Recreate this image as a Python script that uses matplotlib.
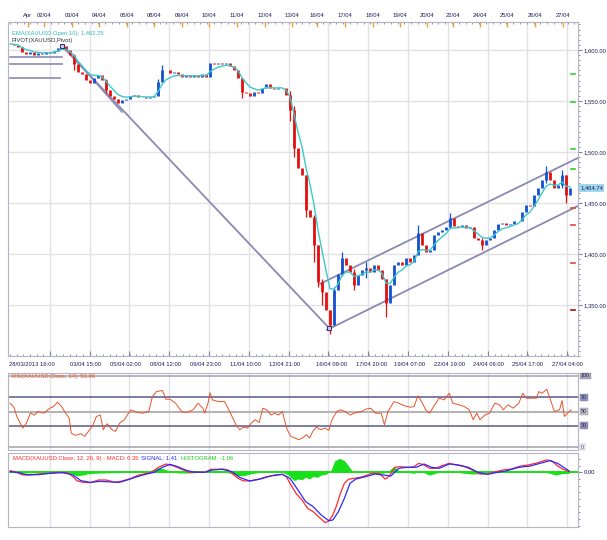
import matplotlib
matplotlib.use("Agg")
import matplotlib.pyplot as plt
import matplotlib.transforms as mtransforms
from matplotlib.ticker import MultipleLocator, FuncFormatter
import numpy as np
import pandas as pd

plt.rcParams['font.family'] = ['Liberation Sans Narrow', 'Liberation Sans', 'DejaVu Sans']

# hourly-ish XAUUSD closes, one value per bar
closes = [1605.9, 1604.9, 1603, 1598, 1596, 1598, 1595, 1597, 1596, 1598,
          1597, 1599, 1602, 1604, 1600, 1595, 1586, 1578, 1576, 1571,
          1568, 1573, 1575, 1571, 1561, 1555, 1552, 1548, 1551, 1552,
          1555, 1556, 1554, 1554, 1553, 1554, 1555, 1569, 1580, 1580,
          1577, 1578, 1576, 1574, 1575, 1574, 1575, 1574, 1576, 1574,
          1587, 1586, 1587, 1586, 1587, 1584, 1580, 1573, 1559, 1558,
          1555, 1559, 1558, 1563, 1567, 1563, 1562, 1563, 1563, 1556,
          1541, 1504, 1484, 1477, 1443, 1436, 1409, 1373, 1363, 1345,
          1330, 1365, 1380, 1396, 1389, 1382, 1370, 1379, 1384, 1386,
          1382, 1389, 1384, 1375, 1352, 1370, 1389, 1392, 1389, 1396,
          1392, 1399, 1421, 1409, 1402, 1404, 1419, 1422, 1424, 1426,
          1435, 1427, 1426, 1428, 1425, 1426, 1416, 1414, 1409, 1414,
          1416, 1424, 1429, 1430, 1428, 1429, 1432, 1432, 1441, 1448,
          1447, 1458, 1465, 1473, 1480, 1473, 1465, 1468, 1477, 1458,
          1464.74]
wick_bars = [16, 24, 37, 38, 58, 70, 71, 74, 76, 77, 78, 80, 81, 83, 86, 89,
             94, 102, 110, 118, 134, 138, 139]
wick_lo = [1580, 1558, 1560, 1575, 1553, 1530, 1495, 1436, 1392, 1368, 1350, 1322,
           1330, 1378, 1365, 1376, 1338, 1400, 1426, 1404, 1470, 1465, 1450]
wick_hi = [1596, 1572, 1572, 1585, 1573, 1560, 1545, 1477, 1438, 1409, 1375, 1345,
           1368, 1402, 1385, 1392, 1375, 1428, 1440, 1416, 1486, 1482, 1477]

top_labels = ["Apr", "02/04", "03/04", "04/04", "05/04", "08/04", "09/04", "10/04",
              "11/04", "12/04", "13/04", "16/04", "17/04", "18/04", "19/04", "20/04",
              "22/04", "24/04", "25/04", "26/04", "27/04"]
top_pos = [4.5, 8.5, 15.5, 22.25, 29.25, 36, 43, 49.75, 56.75, 63.75, 70.5,
           76.75, 83.75, 90.75, 97.5, 104.25, 110.75, 117.5, 124.25, 131.25, 138.25]
bottom_labels = ["28/03/2013 16:00", "03/04 15:00", "05/04 02:00", "08/04 12:00",
                 "09/04 23:00", "11/04 10:00", "12/04 21:00", "16/04 09:00",
                 "17/04 20:00", "19/04 07:00", "22/04 19:00", "24/04 06:00",
                 "25/04 17:00", "27/04 04:00"]
bottom_pos = [5.5, 18.75, 28.75, 38.75, 48.75, 58.75, 68.75, 80.5, 90.5, 100,
              110, 119.5, 129.5, 139.25]

# drawing tools on the price panel
pivot_t = [13, 79.75]
pivot_p = [1604, 1327.5]
fan_t = [13.5, 28]
fan_p = [1602.9, 1539.2]
chan_lo_t = [79.25, 142]
chan_lo_p = [1325.6, 1447.1]
chan_hi_t = [77.5, 142]
chan_hi_p = [1370.7, 1494.2]
old_pivots = [1593.1, 1586.3, 1572.5]
old_pivot_end = [13, 13, 12.5]
res_levels = [1576.5, 1549, 1503, 1483.5]
sup_levels = [1445.2, 1428.5, 1391.3]
s3_level = 1345

rsi_t = [0, 1.0, 1.7, 3.2, 4.1, 5.1, 6.1, 7.0, 8.5, 9.95,
         10.9, 11.9, 12.9, 13.8, 14.8, 15.3, 16.3, 17.7, 18.7, 19.6,
         20.6, 21.6, 22.6, 23.3, 24.3, 25.5, 26.4, 27.4, 28.6, 29.3,
         30.3, 31.8, 33.2, 34.7, 35.6, 36.6, 38.1, 39.0, 40.0, 41.4,
         42.9, 43.9, 44.8, 45.8, 47.0, 48.2, 48.7, 49.5, 50.0, 50.6,
         52.1, 53.6, 54.5, 55.5, 56.5, 57.4, 58.4, 59.4, 60.3, 61.3,
         62.3, 63.2, 64.2, 65.2, 66.2, 67.1, 68.1, 68.6, 69.3, 70.2,
         71.2, 72.2, 73.1, 74.1, 74.9, 75.7, 76.6, 77.6, 78.8, 79.7,
         80.5, 81.7, 82.6, 83.8, 85.0, 86.5, 88.0, 88.9, 90.2, 91.3,
         92.8, 93.6, 94.5, 96.0, 97.2, 98.6, 100.1, 101.0, 102.0, 102.9,
         103.9, 104.9, 105.9, 107.3, 108.6, 109.8, 110.7, 112.2, 113.6, 114.8,
         115.8, 116.7, 117.5, 118.7, 119.9, 121.2, 122.4, 123.3, 124.5, 125.8,
         127.2, 128.2, 129.1, 130.3, 131.6, 132.2, 133.0, 134.2, 135.1, 136.1,
         137.4, 138.0, 138.6, 139.8, 140.3]
rsi_v = [61.7, 56, 43, 26.7, 33.7, 47.7, 45, 50, 47.7, 54.7,
         57, 63, 57, 48.6, 40.7, 19.7, 16.4, 18.7, 15, 22,
         29, 43, 45, 24.3, 32.8, 24.3, 22, 33.7, 38.4, 45,
         52.4, 48.6, 47.7, 50, 71, 78, 79.5, 67.3, 67.3, 61.7,
         50, 48.6, 50, 52.4, 61.7, 54.7, 47.7, 61.7, 76.6, 66.4,
         64, 64, 54.7, 43, 31.4, 24.3, 28, 26.7, 33.7, 38.4,
         34.6, 54.7, 52.4, 45, 47.7, 45, 50, 38.4, 24.3, 15,
         12.7, 10.4, 12.7, 17.3, 12.7, 22, 28, 24.3, 26.7, 23.4,
         38.4, 50, 52.4, 50, 45, 48.6, 50, 53.3, 54.7, 47.7,
         47.7, 31.4, 50, 64, 61.7, 58, 56, 57, 72, 64,
         52.4, 47.7, 57, 68.7, 66.4, 75.7, 61.7, 59.4, 57, 52.4,
         38.4, 47.7, 38.4, 45, 47.7, 61.7, 59.4, 52.4, 59.4, 54.7,
         61.7, 75.7, 68.7, 68.7, 68.7, 78, 75.7, 81.3, 66.4, 50,
         52.4, 65.4, 43, 50, 52.4]

macd_t = [0.1, 1.7, 3.2, 5.1, 7.0, 9.5, 11.9, 14.3, 15.8, 16.7,
          18.2, 20.1, 22.1, 24.0, 26.4, 28.4, 30.3, 32.2, 34.2, 35.6,
          37.1, 39.0, 41.0, 42.9, 44.8, 46.8, 48.7, 50.2, 51.6, 53.1,
          54.5, 55.5, 57.0, 58.4, 60.3, 62.3, 64.2, 66.2, 68.1, 69.1,
          70.0, 71.5, 73.0, 74.4, 75.8, 77.3, 78.8, 79.7, 80.7, 81.7,
          82.6, 83.6, 84.6, 86.0, 87.5, 88.9, 90.4, 92.3, 93.8, 94.7,
          96.2, 97.6, 99.6, 101.0, 102.2, 103.5, 104.9, 106.4, 107.8, 109.8,
          111.7, 113.6, 115.6, 117.5, 119.4, 121.4, 123.3, 125.3, 127.7, 129.6,
          132.0, 134.0, 135.4, 136.9, 138.3, 139.8]
macd_v = [1.5, 0, -2.4, -2.4, -1.5, -0.9, 0, -0.3, -3.9, -7.5,
          -9.0, -9.3, -6.9, -6.9, -9.0, -7.5, -5.4, -2.4, -0.9, 0.6,
          4.5, 7.5, 5.7, 2.7, 0, 0, 0, 2.7, 2.7, 3.0,
          2.1, -0.9, -5.4, -7.8, -7.5, -6.0, -3.9, -2.4, -1.8, -3.9,
          -9.9, -18.9, -24.9, -32.4, -35.4, -40.5, -45.3, -43.8, -38.4, -29.4,
          -18.9, -9.9, -6.3, -5.4, -4.5, -3.0, -0.9, -0.9, -6.0, -3.9,
          4.5, 5.1, 4.5, 5.1, 8.1, 6.6, 3.6, 3.6, 5.7, 8.1,
          6.6, 5.1, 2.1, -1.5, -1.5, 0.6, 2.1, 3.0, 5.7, 6.6,
          8.7, 11.1, 10.5, 5.7, 2.7, 0.6]
signal_t = [0.1, 2.2, 4.1, 7.0, 9.95, 13.3, 15.8, 17.7, 20.1, 22.6,
            25.5, 27.4, 29.3, 31.8, 34.2, 36.1, 38.1, 40.0, 41.9, 43.9,
            45.8, 48.7, 50.6, 53.1, 55.5, 57.4, 59.9, 62.3, 65.2, 68.1,
            70.0, 72.0, 73.9, 75.8, 77.8, 79.7, 80.7, 82.1, 83.6, 85.0,
            86.5, 88.9, 91.3, 93.3, 95.2, 97.2, 99.1, 101.5, 103.5, 105.4,
            107.3, 109.8, 112.2, 114.6, 117.0, 119.4, 121.9, 124.3, 127.2, 130.1,
            132.5, 135.0, 136.9, 139.8]
signal_v = [0.6, -0.3, -2.1, -2.1, -0.9, -0.3, -2.4, -7.5, -9.0, -8.1,
            -8.7, -9.0, -6.9, -3.9, -1.5, 0, 4.5, 7.2, 5.1, 2.1,
            0.3, 0, 2.1, 2.7, 0.6, -4.5, -7.8, -6.3, -3.3, -1.8,
            -5.4, -15.9, -26.4, -30.9, -38.4, -43.5, -42.9, -35.4, -23.4, -9.9,
            -6.0, -3.9, -1.5, -2.4, -3.3, 3.6, 4.5, 4.5, 7.5, 4.5,
            3.6, 7.5, 6.6, 4.5, 0, -1.8, 0, 1.5, 4.5, 5.7,
            8.1, 10.5, 8.1, 1.2]
hist_t = [0.1, 3.2, 7.0, 11.9, 15.3, 16.7, 18.2, 19.6, 22.6, 26.4,
          29.3, 32.2, 34.2, 35.6, 37.1, 38.5, 40.0, 41.9, 44.8, 47.7,
          50.2, 53.6, 55.5, 57.0, 58.4, 60.3, 63.2, 65.2, 68.1, 69.6,
          71.0, 72.0, 73.0, 73.9, 74.9, 75.8, 76.8, 77.8, 79.2, 80.2,
          81.2, 82.4, 83.6, 84.6, 85.5, 87.5, 89.4, 91.3, 93.3, 94.7,
          96.0, 97.2, 99.1, 101.0, 102.5, 104.0, 104.9, 106.4, 107.8, 109.8,
          111.7, 113.6, 115.6, 117.5, 119.4, 121.4, 123.3, 125.3, 127.7, 129.6,
          132.0, 135.0, 136.5, 137.9, 139.8]
hist_v = [0, -0.6, -0.3, 0, -0.9, -3.0, -2.4, -1.2, -0.6, -0.3,
          0.3, 0.6, 0.6, 2.4, 4.2, 3.0, 1.2, -0.6, -0.6, 0,
          0.6, 0.3, -1.2, -3.0, -3.0, -1.2, 0.3, 0.6, 0, -2.4,
          -7.5, -6.0, -6.6, -4.5, -6.0, -3.6, -4.5, -2.4, -1.5, 1.5,
          10.5, 12.6, 10.5, 6.0, 1.5, 0.6, 0.6, -0.6, -0.9, 1.5,
          5.4, 1.5, 0, -0.9, 1.5, -1.2, -2.4, -0.9, 0.6, 1.5,
          0, -0.9, -1.5, -1.2, 0.6, 0.9, 0, 0.6, 0.9, 0.6,
          0.9, -0.9, -2.4, -1.2, -0.9]

rsi_levels = [100, 70, 50, 30, 0]

frame = '#b4b4c4'
grid_c = '#e2e2e6'
txt = '#1c1c5c'
fs = 4.2

fig = plt.figure(figsize=(6.07, 5.40), dpi=100)
L, W = 8 / 607, 570 / 607
ax = fig.add_axes([L, 1 - 356 / 540, W, 334 / 540])
ax_rsi = fig.add_axes([L, 1 - 450 / 540, W, 77 / 540])
ax_macd = fig.add_axes([L, 1 - 527 / 540, W, 74 / 540])

grid_t = 9.95 * np.arange(1, 15)
for a in (ax, ax_rsi, ax_macd):
    a.set_xlim(-0.5, 142)
    for s in a.spines.values():
        s.set_color(frame)
        s.set_linewidth(0.8)
    for g in grid_t:
        a.axvline(g, color=grid_c, lw=1, zorder=0)

# ---- price panel
t = np.arange(len(closes))
c = np.array(closes)
o = np.r_[c[0], c[:-1]]
up = c >= o
ax.vlines(t[up], o[up], c[up], color='#1450d2', lw=2.0, zorder=3)
ax.vlines(t[~up], o[~up], c[~up], color='#e41010', lw=2.0, zorder=3)
wb = np.array(wick_bars)
ax.vlines(wb, wick_lo, wick_hi, color=np.where(up[wb], '#1450d2', '#e41010'), lw=0.9, zorder=3)

ema = pd.Series(c).ewm(span=5, adjust=False).mean()
ax.plot(t, ema, color='#3cc8c8', lw=1, zorder=4)

line_c = '#8a8ab2'
ax.plot(pivot_t, pivot_p, color=line_c, lw=1.3, zorder=2)
ax.plot(fan_t, fan_p, color=line_c, lw=1.1, zorder=2)
ax.plot(chan_lo_t, chan_lo_p, color=line_c, lw=1.3, zorder=2)
ax.plot(chan_hi_t, chan_hi_p, color=line_c, lw=1.3, zorder=2)
ax.plot(pivot_t, pivot_p, 's', ms=3.5, mfc='#c8c8e8', mec='#303070', mew=0.7, zorder=5)
for lvl, end in zip(old_pivots, old_pivot_end):
    ax.plot([0, end], [lvl, lvl], color=line_c, lw=1.2, zorder=2)
for lvl in res_levels:
    ax.plot([140.2, 141.2], [lvl, lvl], color='#30d030', lw=1.2, zorder=2)
for lvl in sup_levels:
    ax.plot([140.2, 141.2], [lvl, lvl], color='#e84040', lw=1.2, zorder=2)
ax.plot([140.2, 141.2], [s3_level, s3_level], color='#a01010', lw=1.2, zorder=2)

ax.set_ylim(1300, 1627.45)
ax.set_yticks(np.arange(1350, 1601, 50))
ax.yaxis.set_minor_locator(MultipleLocator(5))
ax.yaxis.set_major_formatter(FuncFormatter(lambda v, p: f"{v:,.2f}"))
ax.yaxis.tick_right()
ax.tick_params(axis='y', which='major', length=3, color='#8080a0', labelsize=fs,
               labelcolor=txt, pad=1)
ax.tick_params(axis='y', which='minor', length=1.5, color='#8080a0')
ax.grid(axis='y', color=grid_c, lw=1, zorder=0)

ax.set_xticks(grid_t)
ax.set_xticklabels([])
ax.set_xticks(np.arange(0, 142, 1.66), minor=True)
ax.tick_params(axis='x', which='major', direction='in', length=3.5, color='#8080a0')
ax.tick_params(axis='x', which='minor', direction='in', length=1.5, color='#8080a0')
for lab, pos in zip(bottom_labels, bottom_pos):
    ax.text(pos, -0.024, lab, transform=ax.get_xaxis_transform(), fontsize=fs,
            color=txt, ha='center', va='center')

sec = ax.secondary_xaxis('top')
sec.set_xticks(top_pos, top_labels)
sec.set_xticks(np.arange(0, 142, 1.7), minor=True)
sec.tick_params(which='major', direction='in', length=3.5, color='#f0a020', width=1,
                labelsize=fs, labelcolor=txt, pad=3)
sec.tick_params(which='minor', direction='in', length=1.5, color='#8080a0')
sec.spines['top'].set_color(frame)

ax.text(0.007, 0.967, "EMA(XAUUSD.Open,10): 1,462.25", transform=ax.transAxes,
        fontsize=fs, color='#30b8c0', va='center')
ax.text(0.007, 0.946, "PIVOT(XAUUSD,Pivot)", transform=ax.transAxes,
        fontsize=fs, color='#303040', va='center')
bl = mtransforms.blended_transform_factory(ax.transAxes, ax.transData)
ax.text(1.004, c[-1], f"{c[-1]:,.2f}", transform=bl, fontsize=fs, color=txt, va='center',
        bbox=dict(facecolor='#a0d8f0', edgecolor='none', pad=0.8))

# ---- RSI panel
ax_rsi.plot(rsi_t, rsi_v, color='#e8542a', lw=0.7, zorder=3)
lvl_col = {100: '#a0a0a8', 70: '#585888', 50: '#b4b4b4', 30: '#585888', 0: '#a0a0a8'}
box_col = {100: '#a8a8b0', 70: '#9090b8', 50: '#c0c0c0', 30: '#9090b8', 0: '#ffffff'}
blr = mtransforms.blended_transform_factory(ax_rsi.transAxes, ax_rsi.transData)
for lvl in rsi_levels:
    ax_rsi.axhline(lvl, color=lvl_col[lvl], lw=1.5 if lvl == 50 else 1.1, zorder=2)
    ax_rsi.text(1.005, lvl, str(lvl), transform=blr, fontsize=3.8, color=txt, va='center',
                bbox=dict(facecolor=box_col[lvl], edgecolor='#8888a0', lw=0.3, pad=0.6))
ax_rsi.set_ylim(-4.2, 104.2)
ax_rsi.set_xticks([])
ax_rsi.set_yticks([])
ax_rsi.text(0.007, 0.96, "RSI(XAUUSD.Close, 14): 53.06", transform=ax_rsi.transAxes,
            fontsize=fs, color='#e8542a', va='center')

# ---- MACD panel
ax_macd.fill_between(hist_t, 0, hist_v, color='#18e018', lw=0, zorder=2)
ax_macd.axhline(0, color='#18e018', lw=1.4, zorder=2)
ax_macd.plot(macd_t, macd_v, color='#ff2a2a', lw=0.9, zorder=3)
ax_macd.plot(signal_t, signal_v, color='#2a2aff', lw=0.9, zorder=3)
ax_macd.set_ylim(-49.2, 17.4)
ax_macd.set_xticks([])
ax_macd.yaxis.tick_right()
ax_macd.set_yticks([0])
ax_macd.set_yticklabels(["0.00"])
ax_macd.yaxis.set_minor_locator(MultipleLocator(6))
ax_macd.tick_params(axis='y', which='major', length=3, color='#8080a0', labelsize=fs,
                    labelcolor=txt, pad=1)
ax_macd.tick_params(axis='y', which='minor', length=1.5, color='#8080a0')
t1 = ax_macd.text(0.009, 0.932, "MACD(XAUUSD.Close, 12, 26, 9) - MACD: 0.35",
                  transform=ax_macd.transAxes, fontsize=fs, color='#ff2a2a', va='center')
t2 = ax_macd.annotate("SIGNAL: 1.41", xy=(1, 0.5), xycoords=t1, xytext=(2, 0),
                      textcoords='offset points', fontsize=fs, color='#2a2aff', va='center')
ax_macd.annotate("HISTOGRAM: -1.06", xy=(1, 0.5), xycoords=t2, xytext=(2, 0),
                 textcoords='offset points', fontsize=fs, color='#18d018', va='center')

fig.savefig("out.png", dpi=100)
